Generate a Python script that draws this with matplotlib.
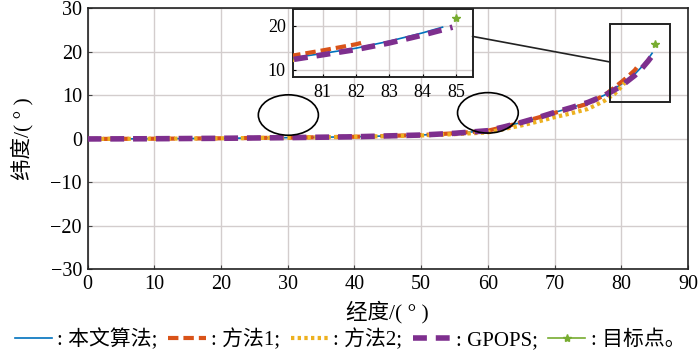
import matplotlib
matplotlib.use("Agg")
import matplotlib.pyplot as plt
from matplotlib.lines import Line2D
from matplotlib.patches import Ellipse, Rectangle, ConnectionPatch

plt.rcParams['font.family'] = ['Liberation Serif', 'Noto Sans CJK SC']
plt.rcParams['axes.unicode_minus'] = True

# series (longitude, latitude in degrees)
x_ours = [0, 10, 20, 30, 40, 50, 55, 60, 62.5, 65, 67.5, 70, 72.5, 75, 77.5, 80, 81, 82, 83, 84, 84.6]
y_ours = [0, 0.05, 0.15, 0.3, 0.5, 0.9, 1.3, 1.9, 2.8, 3.8, 4.9, 6.1, 7.2, 8.4, 10.1, 12.6, 13.7, 14.9, 16.5, 18.4, 19.7]

x_m1 = [0, 10, 20, 30, 40, 50, 55, 60, 62.5, 65, 67.5, 70, 72.5, 75, 77.5, 80, 81, 82, 82.3]
y_m1 = [0, 0.05, 0.15, 0.3, 0.5, 0.9, 1.3, 1.9, 2.8, 3.8, 4.9, 6.0, 7.0, 8.1, 10.1, 13.1, 14.4, 15.8, 16.4]

x_m2 = [0, 10, 20, 30, 40, 50, 55, 60, 62.5, 65, 67.5, 70, 72.5, 75, 77.5, 79, 80, 80.5]
y_m2 = [0, 0.05, 0.15, 0.3, 0.5, 0.8, 1.1, 1.5, 2.3, 3.1, 4.0, 5.0, 5.9, 6.9, 8.8, 10.4, 12.0, 12.9]

x_gp = [0, 10, 20, 30, 40, 50, 55, 60, 62.5, 65, 67.5, 70, 72.5, 75, 77.5, 80, 81, 82, 83, 84, 84.9]
y_gp = [0, 0.05, 0.15, 0.3, 0.5, 0.9, 1.3, 1.9, 2.8, 3.8, 4.9, 6.1, 7.2, 8.4, 10.0, 12.2, 13.4, 14.6, 16.1, 17.9, 19.7]

target_x = [85]
target_y = [21.8]

xticks = [0, 10, 20, 30, 40, 50, 60, 70, 80, 90]
yticks = [-30, -20, -10, 0, 10, 20, 30]
inset_xticks = [81, 82, 83, 84, 85]
inset_yticks = [10, 20]

c_blue = '#0072BD'
c_orange = '#D95319'
c_yellow = '#EDB120'
c_purple = '#7E2F8E'
c_green = '#77AC30'
grid_c = '#d3cdcd'


def draw_series(ax):
    ax.plot(x_ours, y_ours, color=c_blue, lw=1.2, zorder=3)
    ax.plot(x_m1, y_m1, color=c_orange, lw=3, ls=(0, (2.5, 1.2)), zorder=4)
    ax.plot(x_m2, y_m2, color=c_yellow, lw=3, ls=(0, (0.8, 0.8)), zorder=4)
    ax.plot(x_gp, y_gp, color=c_purple, lw=4, ls=(0, (2.5, 1.6)), zorder=5)
    ax.plot(target_x, target_y, ls='none', marker='*', color=c_green, ms=6, zorder=6)


fig = plt.figure(figsize=(7, 3.54), dpi=100)
ax = fig.add_axes([0.125, 0.239, 0.858, 0.737])
draw_series(ax)
ax.set_xlim(0, 90)
ax.set_ylim(-30, 30)
ax.set_xticks(xticks)
ax.set_yticks(yticks)
ax.grid(True, color=grid_c, lw=1)
ax.set_axisbelow(True)
ax.tick_params(direction='in', labelsize=14.5, length=3, color='#444444', pad=4)
ax.set_xlabel('经度/( ° )', fontsize=15.5, labelpad=5)
ax.set_ylabel('纬度/( ° )', fontsize=15.5, labelpad=12)
for s in ax.spines.values():
    s.set_linewidth(1.2)
    s.set_color('#222222')

# marked regions
ax.add_patch(Ellipse((30.1, 5.5), 9.0, 9.3, fill=False, ec='black', lw=1.2, zorder=7))
ax.add_patch(Ellipse((60.0, 6.0), 9.1, 9.3, fill=False, ec='black', lw=1.2, zorder=7))
ax.add_patch(Rectangle((78.3, 8.4), 9.0, 18.0, fill=False, ec='#222222', lw=1.4, zorder=7))

# zoomed inset
axins = fig.add_axes([0.418, 0.782, 0.257, 0.192])
draw_series(axins)
axins.set_xlim(80.1, 85.5)
axins.set_ylim(8.3, 23.8)
axins.set_xticks(inset_xticks)
axins.set_yticks(inset_yticks)
axins.grid(True, color=grid_c, lw=1)
axins.set_axisbelow(True)
axins.tick_params(direction='in', labelsize=13, length=2.5, pad=5)
for s in axins.spines.values():
    s.set_linewidth(1.4)
    s.set_color('#222222')

con = ConnectionPatch(xyA=(1.0, 0.60), coordsA=axins.transAxes,
                      xyB=(78.3, 17.7), coordsB=ax.transData,
                      color='#222222', lw=1.2)
fig.add_artist(con)

handles = [
    Line2D([], [], color=c_blue, lw=1.2),
    Line2D([], [], color=c_orange, lw=3, ls=(0, (2.5, 1.2))),
    Line2D([], [], color=c_yellow, lw=3, ls=(0, (0.8, 0.8))),
    Line2D([], [], color=c_purple, lw=4, ls=(0, (2.5, 1.6))),
    Line2D([], [], color=c_green, lw=1.2, marker='*', ms=6),
]
labels = [': 本文算法;', ': 方法1;', ': 方法2;', ': GPOPS;', ': 目标点。']
fig.legend(handles, labels, loc='lower center', bbox_to_anchor=(0.5, -0.03), ncol=5,
           frameon=False, fontsize=15, handlelength=1.8, handletextpad=0.25,
           columnspacing=0.5, numpoints=1, borderpad=0.2)

fig.savefig('out.png', dpi=100)
